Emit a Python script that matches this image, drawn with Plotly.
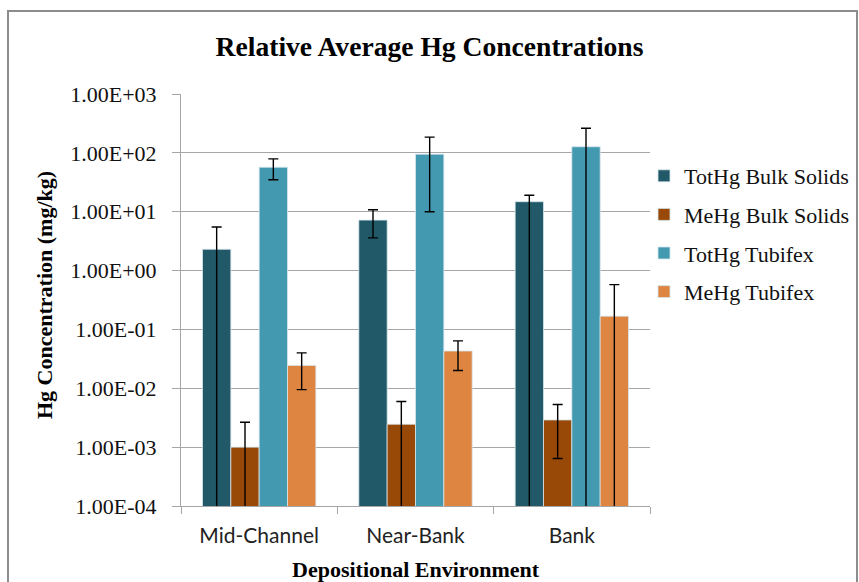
import plotly.graph_objects as go

# Depositional environments on the category axis
categories = ["Mid-Channel", "Near-Bank", "Bank"]

# Average Hg concentrations (mg/kg) and error-bar extents for each series
tothg_bulk = [2.3, 7.2, 14.8]
tothg_bulk_plus = [3.2, 3.6, 4.2]
tothg_bulk_minus = [3.2, 3.6, 16.0]

mehg_bulk = [0.0010, 0.00245, 0.0029]
mehg_bulk_plus = [0.00165, 0.0035, 0.0024]
mehg_bulk_minus = [0.00165, 0.0035, 0.00226]

tothg_tubifex = [57, 95, 127]
tothg_tubifex_plus = [22, 90, 135]
tothg_tubifex_minus = [22, 85, 135]

mehg_tubifex = [0.0245, 0.043, 0.168]
mehg_tubifex_plus = [0.0155, 0.021, 0.41]
mehg_tubifex_minus = [0.015, 0.023, 0.41]

tick_values = [1e-4, 1e-3, 1e-2, 1e-1, 1e0, 1e1, 1e2, 1e3]
tick_labels = ["1.00E-04", "1.00E-03", "1.00E-02", "1.00E-01",
               "1.00E+00", "1.00E+01", "1.00E+02", "1.00E+03"]

series = [
    ("TotHg Bulk Solids", tothg_bulk, tothg_bulk_plus, tothg_bulk_minus, "#215968"),
    ("MeHg Bulk Solids", mehg_bulk, mehg_bulk_plus, mehg_bulk_minus, "#984807"),
    ("TotHg Tubifex", tothg_tubifex, tothg_tubifex_plus, tothg_tubifex_minus, "#4399B0"),
    ("MeHg Tubifex", mehg_tubifex, mehg_tubifex_plus, mehg_tubifex_minus, "#DE8641"),
]

SERIF = "Liberation Serif, Times New Roman, serif"

fig = go.Figure()
for name, vals, plus, minus, color in series:
    fig.add_trace(go.Bar(
        name=name,
        x=categories,
        y=vals,
        legendgroup=name,
        marker=dict(color=color, line=dict(color="#d6e6ec", width=0.8)),
        error_y=dict(type="data", array=plus, arrayminus=minus, symmetric=False,
                     color="#000000", thickness=1.4, width=5),
    ))

L, R, T, B = 181, 209, 94, 76
W, H = 859, 582
pw, ph = W - L - R, H - T - B

def px_x(p):
    return (p - L) / pw

def px_y(p):
    return (H - B - p) / ph

fig.update_layout(
    width=W, height=H,
    margin=dict(l=L, r=R, t=T, b=B, pad=0, autoexpand=False),
    paper_bgcolor="white",
    plot_bgcolor="white",
    barmode="group",
    bargap=0.275,
    bargroupgap=0,
    title=dict(text="<b>Relative Average Hg Concentrations</b>",
               x=0.5, xref="container", xanchor="center",
               y=1 - 46 / H, yref="container", yanchor="middle",
               font=dict(family=SERIF, size=27.6, color="#000000")),
    font=dict(family=SERIF, color="#000000"),
    legend=dict(x=px_x(644), xanchor="left", y=px_y(155), yanchor="top",
                font=dict(family=SERIF, size=22, color="#111111"),
                tracegroupgap=7, traceorder="grouped",
                bgcolor="rgba(0,0,0,0)"),
    xaxis=dict(
        type="category",
        showline=True, linecolor="#a6a6a6", linewidth=1,
        ticks="outside", tickson="boundaries", ticklen=7, tickcolor="#a6a6a6",
        tickfont=dict(family="Lato, Carlito, sans-serif", size=21, color="#222222"),
        ticklabelstandoff=11,
        showgrid=False,
    ),
    yaxis=dict(
        type="log",
        range=[-4, 3],
        tickvals=tick_values,
        ticktext=tick_labels,
        showline=True, linecolor="#a6a6a6", linewidth=1,
        ticks="outside", ticklen=8, tickcolor="#a6a6a6",
        ticklabelstandoff=11,
        showgrid=True, gridcolor="#a6a6a6", gridwidth=1,
        tickfont=dict(family=SERIF, size=22, color="#111111"),
        zeroline=False,
    ),
    annotations=[
        dict(text="<b>Hg Concentration (mg/kg)</b>", textangle=-90,
             xref="paper", yref="paper", x=px_x(44), y=px_y(295),
             xanchor="center", yanchor="middle", showarrow=False,
             font=dict(family=SERIF, size=22, color="#000000")),
        dict(text="<b>Depositional Environment</b>",
             xref="paper", yref="paper", x=0.5, y=px_y(569),
             xanchor="center", yanchor="middle", showarrow=False,
             font=dict(family=SERIF, size=22, color="#000000")),
    ],
    shapes=[
        dict(type="rect", xref="paper", yref="paper",
             x0=px_x(8), x1=px_x(857), y0=px_y(600), y1=px_y(11),
             line=dict(color="#8c8c8c", width=2), fillcolor="rgba(0,0,0,0)",
             layer="above"),
    ],
)

fig.write_html("out.html")
